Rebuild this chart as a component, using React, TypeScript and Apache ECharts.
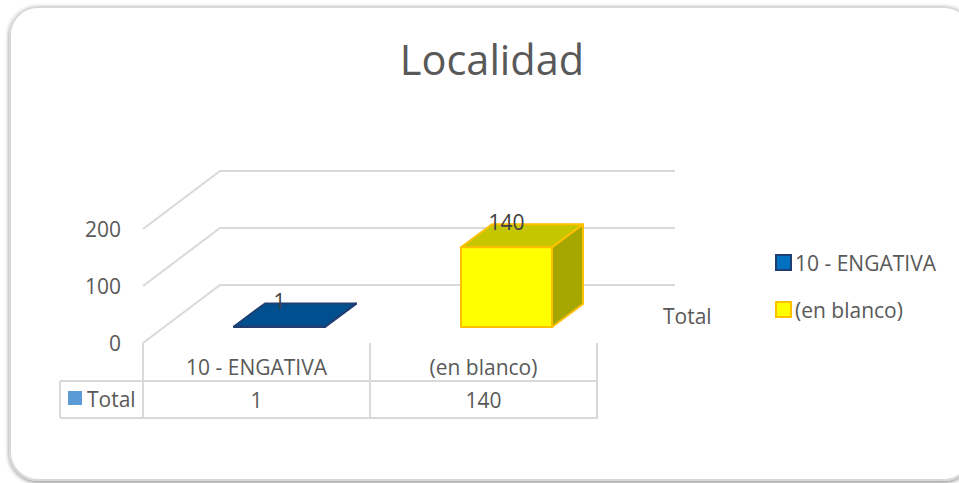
import React, { useEffect, useRef } from "react";
import * as echarts from "echarts";

const titleText = "Localidad";
const categories = ["10 - ENGATIVA", "(en blanco)"];
const totals = [1, 140];
const yTicks = [0, 100, 200];
const seriesLabel = "Total";
const FONT = "'Open Sans', sans-serif";
const TEXT = "#595959";
const FS = 21;

const palettes = [
  { front: "#0070C0", top: "#00508F", side: "#003F70", border: "#1F3F73", legend: "#0070C0" },
  { front: "#FFFF00", top: "#C6C600", side: "#A6A600", border: "#FFC000", legend: "#FFFF00" },
];

const FLOOR_DX = 77, FLOOR_DY = -58;   // depth of the floor
const BAR_W = 91, BAR_DX = 31, BAR_DY = -23; // bar footprint
const OFF_X = 23, OFF_Y = -16;         // bar offset inside the floor
const WALL_END = 675;

const barRender = (pal: any) => (params: any, api: any) => {
  const cat = api.value(0), val = api.value(1);
  const base = api.coord([cat, 0]);
  const top = api.coord([cat, val]);
  const l = base[0] + OFF_X - BAR_W / 2, r = l + BAR_W;
  const b = base[1] + OFF_Y, t = top[1] + OFF_Y;
  const st = (fill: string) => ({ fill, stroke: pal.border, lineWidth: 2, lineJoin: "round" });
  return {
    type: "group",
    children: [
      { type: "polygon", shape: { points: [[r, b], [r + BAR_DX, b + BAR_DY], [r + BAR_DX, t + BAR_DY], [r, t]] }, style: st(pal.side) },
      { type: "polygon", shape: { points: [[l, t], [r, t], [r + BAR_DX, t + BAR_DY], [l + BAR_DX, t + BAR_DY]] }, style: st(pal.top) },
      { type: "polygon", shape: { points: [[l, b], [r, b], [r, t], [l, t]] }, style: st(pal.front) },
      { type: "text", style: { text: String(val), x: (l + r) / 2, y: t - 25, align: "center", verticalAlign: "middle", font: `${FS}px ${FONT}`, fill: "#404040" } },
      { type: "text", style: { text: String(val), x: base[0], y: 400, align: "center", verticalAlign: "middle", font: `${FS}px ${FONT}`, fill: TEXT } },
    ],
  };
};

const wallRender = (params: any, api: any) => {
  const v = api.value(0);
  const p = api.coord([0, v]);
  const x0 = params.coordSys.x;
  return {
    type: "polyline",
    shape: { points: [[x0, p[1]], [x0 + FLOOR_DX, p[1] + FLOOR_DY], [WALL_END, p[1] + FLOOR_DY]] },
    style: { fill: "none", stroke: "#D9D9D9", lineWidth: 2 },
  };
};

const tableLine = (x1: number, y1: number, x2: number, y2: number) => ({
  type: "line",
  shape: { x1, y1, x2, y2 },
  style: { stroke: "#D9D9D9", lineWidth: 2 },
});

export default function App() {
  const ref = useRef<HTMLDivElement>(null);
  useEffect(() => {
    const chart = echarts.init(ref.current!, undefined, { renderer: "svg" });
    chart.setOption({
      animation: false,
      backgroundColor: "#fff",
      title: {
        text: titleText,
        left: 487,
        top: 33,
        textAlign: "center",
        textStyle: { fontFamily: FONT, fontSize: 41.5, fontWeight: "normal", color: TEXT },
      },
      grid: { left: 143, right: 362, top: 229, bottom: 140 },
      xAxis: {
        type: "category",
        data: categories,
        axisLine: { show: false },
        axisTick: { show: false },
        splitLine: { show: false },
        axisLabel: { fontFamily: FONT, fontSize: FS, color: TEXT, margin: 13 },
      },
      yAxis: {
        type: "value",
        min: 0,
        max: 200,
        interval: 100,
        axisLine: { show: false },
        axisTick: { show: false },
        splitLine: { show: false },
        axisLabel: { fontFamily: FONT, fontSize: FS, color: TEXT, margin: 22, padding: [2, 0, 0, 0] },
      },
      legend: {
        orient: "vertical",
        left: 770,
        top: 247,
        itemWidth: 15,
        itemHeight: 15,
        itemGap: 26,
        textStyle: { fontFamily: FONT, fontSize: FS, color: TEXT, padding: [0, 0, 0, -1] },
        data: categories.map((c, i) => ({
          name: c,
          icon: "rect",
          itemStyle: { color: palettes[i].legend, borderColor: palettes[i].border, borderWidth: 2 },
        })),
      },
      graphic: [
        {
          type: "rect",
          z: -1,
          shape: { x: 10, y: 7, width: 962, height: 473, r: 28 },
          style: { fill: "#fff", stroke: "#D9D9D9", lineWidth: 2, shadowBlur: 4, shadowOffsetX: 0, shadowOffsetY: 1.5, shadowColor: "rgba(0,0,0,0.45)" },
        },
        { type: "group", z: 1, children: [
          tableLine(143, 343, 143, 419),
          tableLine(370, 343, 370, 419),
          tableLine(597, 343, 597, 419),
          tableLine(60, 381, 597, 381),
          tableLine(60, 418, 597, 418),
          tableLine(60, 381, 60, 418),
        ] },
        { type: "rect", z: 1, shape: { x: 68, y: 391, width: 14, height: 14 }, style: { fill: "#5B9BD5" } },
        { type: "text", z: 1, style: { text: seriesLabel, x: 87, y: 399, verticalAlign: "middle", font: `${FS}px ${FONT}`, fill: TEXT } },
        { type: "text", z: 1, style: { text: seriesLabel, x: 663, y: 316, verticalAlign: "middle", font: `${FS}px ${FONT}`, fill: TEXT } },
      ],
      series: [
        {
          type: "custom",
          name: "walls",
          z: 1,
          silent: true,
          coordinateSystem: "cartesian2d",
          encode: { y: 0 },
          data: yTicks.map((v) => [v]),
          renderItem: wallRender,
        },
        ...categories.map((c, i) => ({
          type: "custom",
          name: c,
          z: 3,
          coordinateSystem: "cartesian2d",
          encode: { x: 0, y: 1 },
          itemStyle: { color: palettes[i].legend },
          data: [[i, totals[i]]],
          renderItem: barRender(palettes[i]),
        })),
      ],
    });
    return () => chart.dispose();
  }, []);
  return <div ref={ref} style={{ position: "absolute", left: 0, top: 0, width: 959, height: 483 }} />;
}
